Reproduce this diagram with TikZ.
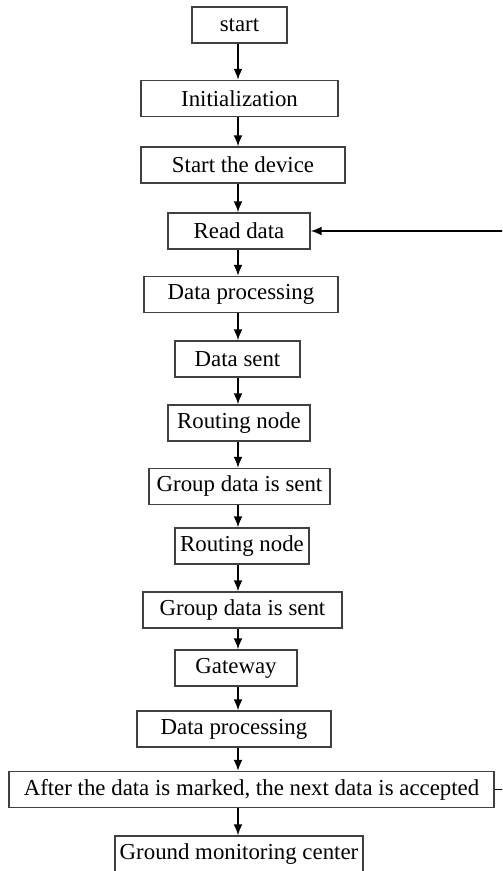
\documentclass[tikz,border=0pt]{standalone}
\usepackage{fontspec}
\setmainfont{Liberation Serif}
\usetikzlibrary{arrows.meta}
\usetikzlibrary{calc}

\tikzset{
	box/.style={draw=black!75,line width=0.8pt,minimum height=0.72cm,inner sep=1pt,
		font=\fontsize{13}{15}\selectfont},
	flow/.style={->,line width=1pt},
}

\begin{document}
\begin{tikzpicture}[>/.tip={Latex[length=2.2mm,width=1.8mm]}]
	\clip (0,0) rectangle (10.04,-17.42);
	\coordinate (col) at (4.76,0);
	\draw (4.79,-0.50) node(start) [box,minimum width=1.90cm] {start};
	\draw (4.79,-1.97) node(init) [box,minimum width=3.94cm] {Initialization};
	\draw (4.86,-3.30) node(device) [box,minimum width=4.08cm] {Start the device};
	\draw (4.78,-4.62) node(read) [box,minimum width=2.84cm] {Read data};
	\draw (4.82,-5.89) node(proc1) [box,minimum width=3.88cm] {Data processing};
	\draw (4.75,-7.18) node(sent) [box,minimum width=2.50cm] {Data sent};
	\draw (4.78,-8.46) node(route1) [box,minimum width=2.84cm] {Routing node};
	\draw (4.79,-9.73) node(group1) [box,minimum width=3.62cm] {Group data is sent};
	\draw (4.84,-10.92) node(route2) [box,minimum width=2.68cm] {Routing node};
	\draw (4.85,-12.20) node(group2) [box,minimum width=3.98cm] {Group data is sent};
	\draw (4.72,-13.36) node(gate) [box,minimum width=2.44cm] {Gateway};
	\draw (4.68,-14.58) node(proc2) [box,minimum width=3.88cm] {Data processing};
	\draw (5.03,-15.79) node(mark) [box,minimum width=9.70cm] {After the data is marked, the next data is accepted};
	\draw (4.78,-17.08) node(ground) [box,minimum width=4.96cm] {Ground monitoring center};
	% main column
	\foreach \a/\b in {start/init,init/device,device/read,read/proc1,proc1/sent,
		sent/route1,route1/group1,group1/route2,route2/group2,group2/gate,
		gate/proc2,proc2/mark,mark/ground}
		\draw[flow] (\a.south -| col) -- (\b.north -| col);
	% loop back to reading
	\draw[flow] (mark.east) -- ++(0.4,0) |- (read.east);
\end{tikzpicture}
\end{document}
